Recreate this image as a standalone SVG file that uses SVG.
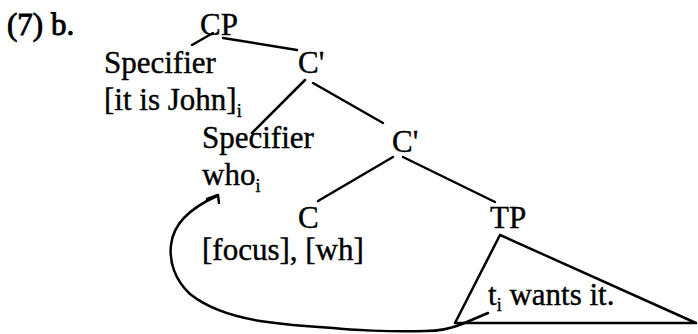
<svg xmlns="http://www.w3.org/2000/svg" width="698" height="334" viewBox="0 0 698 334">
<style>
text{font-family:"Liberation Serif","Times New Roman",serif;font-size:31px;fill:#000;stroke:#000;stroke-width:0.4}
.sub{font-size:18px}
.b{stroke-width:0.9}
.ln{stroke:#000;stroke-width:2.5;fill:none;stroke-linecap:round;stroke-linejoin:round}
</style>
<rect width="698" height="334" fill="#fff"/>
<g id="label"><text class="b" x="7" y="35">(7) b.</text></g>
<g id="CP"><text x="200" y="35">CP</text></g>
<g id="Spec1"><text x="104" y="73">Specifier</text><text x="104" y="110">[it is John]<tspan class="sub" dy="7">i</tspan></text></g>
<g id="Cbar1"><text x="298" y="73">C'</text></g>
<g id="Spec2"><text x="202" y="148">Specifier</text><text x="202" y="185">who<tspan class="sub" dy="7">i</tspan></text></g>
<g id="Cbar2"><text x="392" y="152">C'</text></g>
<g id="C"><text x="298" y="228">C</text><text x="202" y="260">[focus], [wh]</text></g>
<g id="TP"><text x="490" y="228">TP</text></g>
<g id="TPtri"><polygon class="ln" points="500,235 455,323 696,323"/><text x="488" y="305">t<tspan class="sub" dy="6">i</tspan><tspan dy="-6"> wants it.</tspan></text></g>
<g id="connectors">
<line class="ln" x1="192" y1="45" x2="213" y2="33"/>
<line class="ln" x1="223" y1="38" x2="297" y2="50"/>
<line class="ln" x1="305" y1="80" x2="252" y2="133"/>
<line class="ln" x1="313" y1="83" x2="383" y2="123"/>
<line class="ln" x1="393" y1="157" x2="318" y2="201"/>
<line class="ln" x1="403" y1="157" x2="495" y2="202"/>
<path class="ln" d="M488,313 L462,324 C450,329 440,331 425,331 C390,332 350,330 333,328 C300,326 280,324 260,321 C230,316 205,306 190,294 C175,280 169,262 171,245 C173,225 188,209 217,196"/>
<polyline class="ln" points="207,199 218,195 219,203"/>
</g>
</svg>
